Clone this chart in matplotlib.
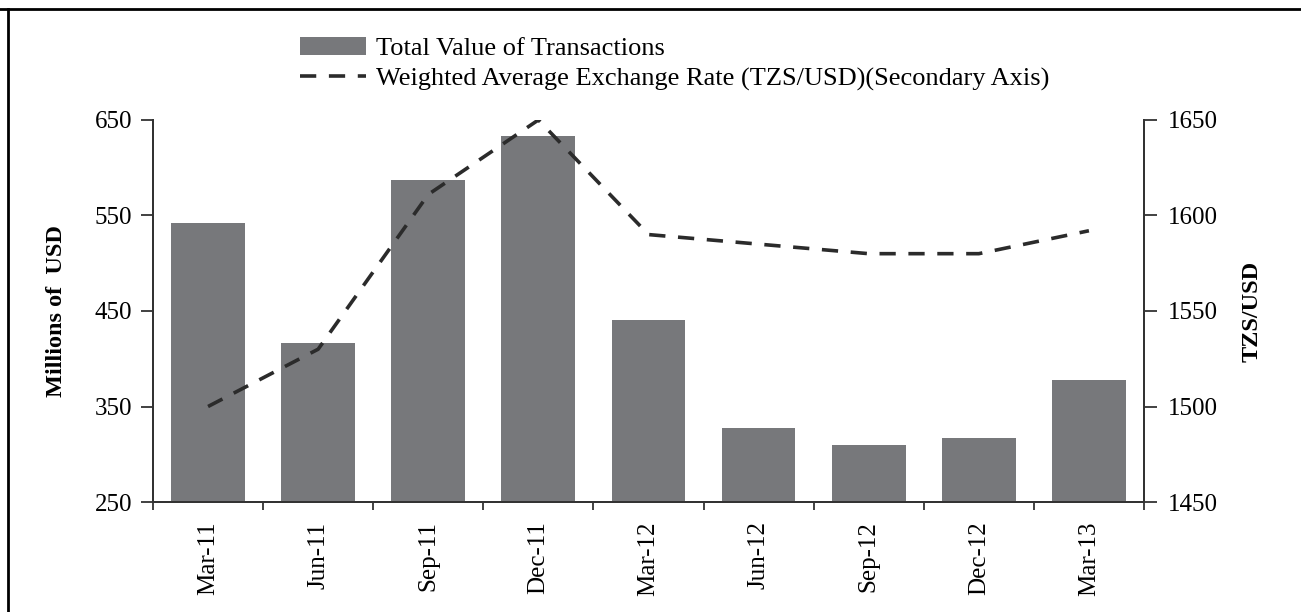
import matplotlib
matplotlib.use('Agg')
import matplotlib.pyplot as plt
from matplotlib.lines import Line2D

quarters = ['Mar-11', 'Jun-11', 'Sep-11', 'Dec-11', 'Mar-12', 'Jun-12', 'Sep-12', 'Dec-12', 'Mar-13']
total_value = [542, 416, 587, 633, 441, 327, 310, 317, 378]
exchange_rate = [1500, 1530, 1611, 1650, 1590, 1585, 1580, 1580, 1592]

BAR_COLOR = '#77787b'
LINE_COLOR = '#2b2b2b'
AXIS_COLOR = '#333333'

plt.rcParams['font.family'] = ['Liberation Serif', 'DejaVu Serif']

fig = plt.figure(figsize=(13.01, 6.12), dpi=100)
ax = fig.add_axes([0.1176, 0.1797, 0.7617, 0.6243])
ax2 = ax.twinx()

x = list(range(len(quarters)))
bars = ax.bar(x, total_value, width=0.67, color=BAR_COLOR, label='Total Value of Transactions', zorder=2)
line, = ax2.plot(x, exchange_rate, color=LINE_COLOR, linestyle=(0, (4.5, 3.5)), linewidth=2.6,
                 label='Weighted Average Exchange Rate (TZS/USD)(Secondary Axis)', zorder=3)

ax.set_xlim(-0.5, len(quarters) - 0.5)
ax.set_ylim(250, 650)
ax.set_yticks([250, 350, 450, 550, 650])
ax2.set_ylim(1450, 1650)
ax2.set_yticks([1450, 1500, 1550, 1600, 1650])

# Category ticks sit between the bars, labels sit under the bars
ax.set_xticks([i - 0.5 for i in range(len(quarters) + 1)])
ax.set_xticklabels([])
ax.set_xticks(x, minor=True)
ax.set_xticklabels(quarters, minor=True, rotation=90, fontsize=18)
ax.tick_params(axis='x', which='minor', length=0, pad=14)
ax.tick_params(axis='x', which='major', length=6, width=1.3, color=AXIS_COLOR)

ax.tick_params(axis='y', length=9, width=1.3, color=AXIS_COLOR, labelsize=18, pad=6)
ax2.tick_params(axis='y', length=9, width=1.3, color=AXIS_COLOR, labelsize=18, pad=8)

for a in (ax, ax2):
    a.spines['top'].set_visible(False)
    for s in ('left', 'right', 'bottom'):
        a.spines[s].set_color(AXIS_COLOR)
        a.spines[s].set_linewidth(1.4)

ax.set_ylabel('Millions of  USD', fontsize=17.5, fontweight='bold', labelpad=20)
ax2.set_ylabel('TZS/USD', fontsize=17.5, fontweight='bold', labelpad=17)

fig.legend(handles=[bars, line], loc='upper left', bbox_to_anchor=(0.2306, 0.94),
           frameon=False, fontsize=19, handlelength=2.5, handletextpad=0.38,
           labelspacing=0.25, borderpad=0, borderaxespad=0)

# partial frame around the picture
fig.add_artist(Line2D([0, 1], [0.985, 0.985], transform=fig.transFigure, color='black', linewidth=2))
fig.add_artist(Line2D([0.0065, 0.0065], [0, 0.985], transform=fig.transFigure, color='black', linewidth=2))

fig.savefig('out.png', dpi=100, facecolor='white')
